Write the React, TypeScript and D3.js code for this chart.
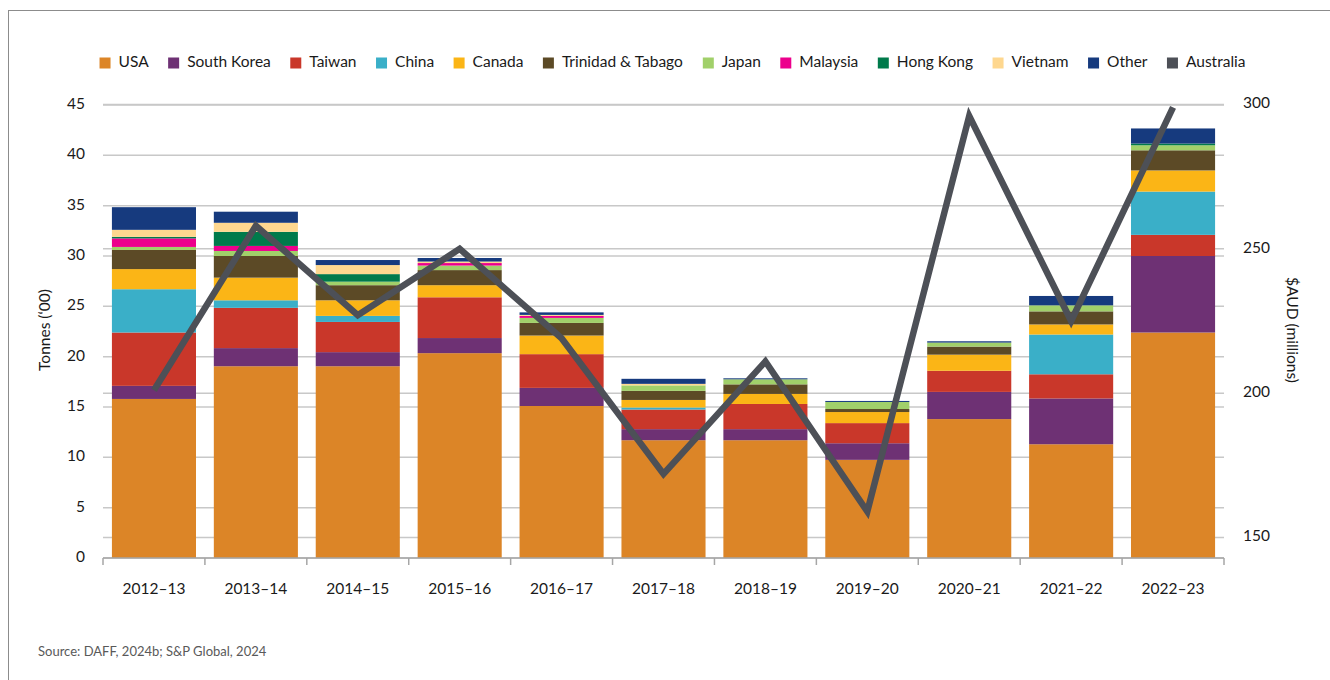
import React from "react";
import * as d3 from "d3";

const categories = ["2012–13", "2013–14", "2014–15", "2015–16", "2016–17", "2017–18", "2018–19", "2019–20", "2020–21", "2021–22", "2022–23"];
const usa = [15.8, 19.05, 19.05, 20.35, 15.1, 11.7, 11.7, 9.75, 13.8, 11.3, 22.4];
const southKorea = [1.3, 1.8, 1.4, 1.5, 1.8, 1.1, 1.1, 1.65, 2.7, 4.55, 7.6];
const taiwan = [5.3, 4.0, 3.0, 4.05, 3.35, 1.95, 2.5, 2.0, 2.1, 2.4, 2.1];
const china = [4.3, 0.75, 0.6, 0, 0, 0.2, 0, 0, 0, 3.95, 4.3];
const canada = [2.0, 2.25, 1.55, 1.2, 1.85, 0.75, 1.0, 1.1, 1.6, 1.0, 2.1];
const trinidad = [1.9, 2.15, 1.5, 1.5, 1.25, 0.9, 0.95, 0.3, 0.8, 1.3, 2.0];
const japan = [0.3, 0.5, 0.35, 0.45, 0.5, 0.55, 0.5, 0.7, 0.4, 0.6, 0.5];
const malaysia = [0.85, 0.5, 0, 0.25, 0.2, 0, 0, 0, 0, 0, 0];
const hongKong = [0.15, 1.4, 0.75, 0, 0, 0, 0, 0, 0, 0, 0.17];
const vietnam = [0.7, 0.9, 0.9, 0.15, 0.1, 0.15, 0, 0, 0, 0, 0];
const other = [2.25, 1.1, 0.5, 0.35, 0.25, 0.5, 0.1, 0.1, 0.13, 0.93, 1.5];
const australia = [201, 258, 227, 250, 219, 172, 211, 159, 296, 225, 299];

const seriesNames = ["USA", "South Korea", "Taiwan", "China", "Canada", "Trinidad & Tabago", "Japan", "Malaysia", "Hong Kong", "Vietnam", "Other"];
const seriesValues = [usa, southKorea, taiwan, china, canada, trinidad, japan, malaysia, hongKong, vietnam, other];
const seriesColors = ["#dc8527", "#6e3174", "#c9372a", "#3aafc8", "#fbb516", "#5c4a26", "#a1d06a", "#ec008c", "#007a4b", "#fed78f", "#163a7e"];
const lineName = "Australia";
const lineColor = "#4d5057";

const leftTicks = [0, 5, 10, 15, 20, 25, 30, 35, 40, 45];
const rightTicks = [150, 200, 250, 300];

const FONT = "Lato, 'Open Sans', sans-serif";

function measure(text: string, size: number) {
  const c = document.createElement("canvas");
  const ctx = c.getContext("2d")!;
  ctx.font = `${size}px Lato`;
  return ctx.measureText(text).width;
}

export default function App() {
  const W = 1330, H = 680;
  const x0 = 103, x1 = 1224;
  const yBase = 558;

  const x = d3.scaleBand<string>().domain(categories).range([x0, x1]).paddingInner(0.175).paddingOuter(0.0875);
  const yL = d3.scaleLinear().domain([0, 45]).range([yBase, 105]);
  const yR = d3.scaleLinear().domain([150, 300]).range([537.5, 104.5]);

  const rows = categories.map((c, i) => {
    const r: any = { cat: c };
    seriesNames.forEach((n, k) => (r[n] = seriesValues[k][i]));
    return r;
  });
  const stacked = d3.stack<any>().keys(seriesNames)(rows);

  const line = d3
    .line<number>()
    .x((_, i) => (x(categories[i]) as number) + x.bandwidth() / 2)
    .y((d) => yR(d));

  // legend layout
  const legendItems = [...seriesNames.map((n, i) => ({ name: n, color: seriesColors[i] })), { name: lineName, color: lineColor }];
  const sq = 11, txtOff = 19, gap = 19.5, fs = 15.5;
  const widths = legendItems.map((it) => txtOff + measure(it.name, fs));
  const total = widths.reduce((a, b) => a + b, 0) + gap * (legendItems.length - 1);
  let cx = 672.5 - total / 2;
  const legendPos = widths.map((w) => {
    const p = cx;
    cx += w + gap;
    return p;
  });
  const legendY = 63;

  return (
    <svg width={W} height={H} style={{ position: "absolute", left: 0, top: 0, background: "#fff" }} fontFamily={FONT}>
      <rect x={8.5} y={10.5} width={W} height={H} fill="none" stroke="#8c8c8c" strokeWidth={1} />

      {/* gridlines */}
      {leftTicks.map((t) => (
        <line key={"gl" + t} x1={x0} x2={x1} y1={yL(t)} y2={yL(t)} stroke="#c8c8c8" strokeWidth={1.5} />
      ))}
      {rightTicks.map((t) => (
        <line key={"gr" + t} x1={x0} x2={x1} y1={yR(t)} y2={yR(t)} stroke="#c8c8c8" strokeWidth={1.5} />
      ))}

      {/* bars */}
      {stacked.map((s, k) => (
        <g key={s.key} fill={seriesColors[k]}>
          {s.map((d, i) =>
            d[1] - d[0] > 0 ? (
              <rect
                key={i}
                x={x(categories[i]) as number}
                width={x.bandwidth()}
                y={yL(d[1])}
                height={yL(d[0]) - yL(d[1])}
              />
            ) : null
          )}
        </g>
      ))}

      {/* x axis */}
      <line x1={x0} x2={x1} y1={yBase} y2={yBase} stroke="#a6a6a6" strokeWidth={1.5} />
      {categories.map((c, i) => (
        <line key={"xt" + i} x1={x0 + i * x.step()} x2={x0 + i * x.step()} y1={yBase} y2={yBase + 7} stroke="#a6a6a6" strokeWidth={1.5} />
      ))}
      <line x1={x1} x2={x1} y1={yBase} y2={yBase + 7} stroke="#a6a6a6" strokeWidth={1.5} />
      {categories.map((c) => (
        <text key={"xl" + c} x={(x(c) as number) + x.bandwidth() / 2} y={590} fontSize={15.5} textAnchor="middle" dominantBaseline="middle" fill="#1a1a1a">
          {c}
        </text>
      ))}

      {/* line */}
      <path d={line(australia) || ""} fill="none" stroke={lineColor} strokeWidth={6.5} strokeLinejoin="miter" strokeMiterlimit={10} />

      {/* left axis labels */}
      {leftTicks.map((t) => (
        <text key={"ll" + t} x={85} y={yL(t)} fontSize={15.5} textAnchor="end" dominantBaseline="middle" fill="#1a1a1a">
          {t}
        </text>
      ))}
      {rightTicks.map((t) => (
        <text key={"rl" + t} x={1243} y={yR(t)} fontSize={15.5} textAnchor="start" dominantBaseline="middle" fill="#1a1a1a">
          {t}
        </text>
      ))}
      <text transform={`translate(46,330) rotate(-90)`} fontSize={15.5} textAnchor="middle" dominantBaseline="middle" fill="#1a1a1a">
        Tonnes (‘00)
      </text>
      <text transform={`translate(1291,330) rotate(90)`} fontSize={15.5} textAnchor="middle" dominantBaseline="middle" fill="#1a1a1a">
        $AUD (millions)
      </text>

      {/* legend */}
      {legendItems.map((it, i) => (
        <g key={"lg" + i} transform={`translate(${legendPos[i]},${legendY})`}>
          <rect x={0} y={-sq / 2} width={sq} height={sq} fill={it.color} />
          <text x={txtOff} y={0} fontSize={fs} dominantBaseline="middle" fill="#1a1a1a">
            {it.name}
          </text>
        </g>
      ))}

      <text x={38} y={653} fontSize={13} fill="#595959" dominantBaseline="middle">
        Source: DAFF, 2024b; S&amp;P Global, 2024
      </text>
    </svg>
  );
}
